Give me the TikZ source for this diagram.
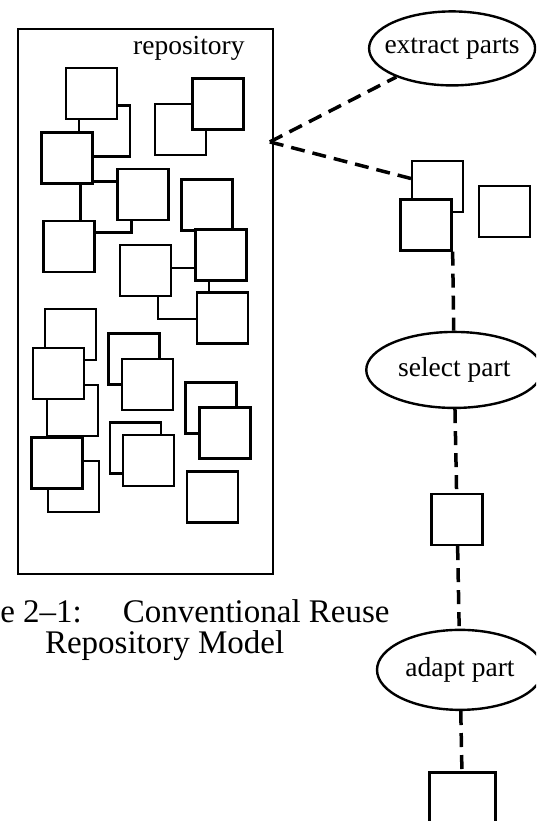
\documentclass[tikz,border=0pt]{standalone}
\usepackage{fontspec}
\setmainfont{Liberation Serif}
\usetikzlibrary{shapes.geometric}

\begin{document}
\begin{tikzpicture}[x=1pt,y=-1pt,
  part/.style={draw, fill=white, line width=2.4pt, minimum size=51pt, inner sep=0pt},
  task/.style={ellipse, draw, line width=2.4pt, inner sep=0pt, font=\fontsize{27.5}{30}\selectfont},
  link/.style={line width=3.5pt, dash pattern=on 14pt off 8pt}]
\path[use as bounding box] (0,0) rectangle (536,821);
\clip (0,0) rectangle (536,821);
\begin{scope}[rotate around={1.1:(268,410)}]
\node[draw, line width=2.2pt, minimum width=255pt, minimum height=545pt, inner sep=0pt] (repo) at (147.5,299.5) {};
\node[anchor=base east, font=\fontsize{27.5}{30}\selectfont] (repolabel) at (255,54) {repository};
\node[part] (b1) at (110,128) {};
\node[part] (b2) at (110,204) {};
\node[part] (s1) at (97.5,90) {};
\node[part] (s2) at (72,154) {};
\node[part] (s3) at (72,243) {};
\node[part] (s4) at (147,192) {};
\node[part] (bf) at (186,128) {};
\node[part] (f) at (224,103) {};
\node[part] (bk) at (186,292) {};
\node[part] (a) at (211,204) {};
\node[part] (r) at (224,254) {};
\node[part] (l) at (148,268) {};
\node[part] (d) at (224,317) {};
\node[part] (lb1) at (72,331) {};
\node[part] (lb2) at (72.5,407) {};
\node[part] (lb3) at (72,483) {};
\node[part] (lf1) at (59,369.5) {};
\node[part] (lf2) at (56,459) {};
\node[part] (mb1) at (135,356.5) {};
\node[part] (mb2) at (135,445.5) {};
\node[part] (mf1) at (148,382) {};
\node[part] (mf2) at (147.5,458) {};
\node[part] (rb) at (211,407) {};
\node[part] (rf) at (224.5,432) {};
\node[part] (rs) at (211,496) {};
\coordinate (hub) at (275,142);
\node[task, minimum width=166pt, minimum height=74pt] (extract) at (459,52) {\makebox[0pt]{extract parts}};
\node[part] (pb) at (442,190) {};
\node[part] (pf) at (429.5,228) {};
\node[part] (ls) at (508,216) {};
\node[task, minimum width=176pt, minimum height=76pt] (select) at (455,373.5) {\makebox[0pt]{select part}};
\node[part] (ms) at (455,523) {};
\node[task, minimum width=166pt, minimum height=80pt] (adapt) at (455,673.5) {\makebox[0pt]{adapt part}};
\node[draw, fill=white, line width=2.4pt, minimum width=66pt, minimum height=66pt, inner sep=0pt] (bs) at (455,809) {};
\draw[link] (hub) -- (extract);
\draw[link] (hub) -- (pb.163);
\draw[link] (pf.south east) -- (select);
\draw[link] (select) -- (ms);
\draw[link] (ms) -- (adapt);
\draw[link] (adapt) -- (bs);
\node[anchor=base east, font=\fontsize{33}{30}\selectfont] (cap1) at (389,625) {re 2--1:\hspace{41pt}Conventional Reuse};
\node[anchor=base, font=\fontsize{33}{30}\selectfont] (cap2) at (160,651) {Repository Model};
\end{scope}
\end{tikzpicture}
\end{document}
